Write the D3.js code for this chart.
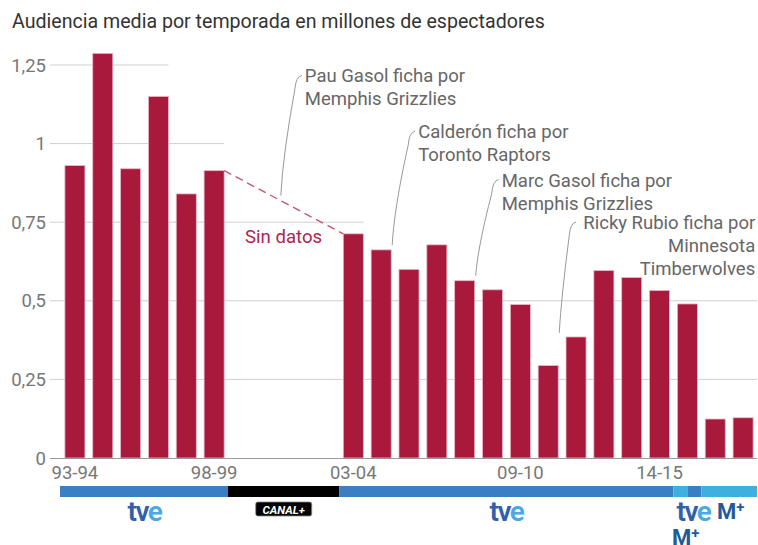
<!DOCTYPE html>
<html>
<head>
<meta charset="utf-8">
<script src="https://cdn.jsdelivr.net/npm/d3@7"></script>
<style>
  body { margin: 0; background: #fff; }
  svg text { font-family: Roboto, "Noto Sans", sans-serif; }
</style>
</head>
<body>
<div id="chart"></div>
<script>
// Seasons and average audience (millions), null = no data
var seasons = ["93-94","94-95","95-96","96-97","97-98","98-99","99-00","00-01","01-02","02-03",
  "03-04","04-05","05-06","06-07","07-08","08-09","09-10","10-11","11-12","12-13",
  "13-14","14-15","15-16","16-17","17-18"];
var audience = [0.93, 1.287, 0.92, 1.15, 0.84, 0.914, null, null, null, null,
  0.713, 0.662, 0.60, 0.678, 0.564, 0.535, 0.488, 0.294, 0.385, 0.596,
  0.574, 0.533, 0.49, 0.124, 0.128];
var xTickLabels = ["93-94", "98-99", "03-04", "09-10", "14-15"];
var yTicks = [0, 0.25, 0.5, 0.75, 1, 1.25];
// where the upper gridlines stop (season whose right edge ends them)
var gridEnds = {"0.75": "03-04", "1": "98-99", "1.25": "96-97"};

// broadcaster strip: [from season index, to season index, broadcaster]
var strip = [[0, 6, "tve"], [6, 10, "canal"], [10, 22, "tve"], [22, 22.5, "movistar"],
  [22.5, 23, "tve"], [23, 25, "movistar"]];

var noteTexts = [
  ["Pau Gasol ficha por", "Memphis Grizzlies"],
  ["Calderón ficha por", "Toronto Raptors"],
  ["Marc Gasol ficha por", "Memphis Grizzlies"],
  ["Ricky Rubio ficha por", "Minnesota", "Timberwolves"]
];
var noteSeasons = ["00-01", "04-05", "07-08", "10-11"];
var noteTips = [0.835, 0.677, 0.58, 0.398];

var svgWidth = 758, svgHeight = 545;
var red = "#a8193c";

var svg = d3.select("#chart").append("svg")
  .attr("width", svgWidth).attr("height", svgHeight);

svg.append("text")
  .attr("x", 12).attr("y", 28)
  .attr("font-size", 19.6).attr("fill", "#333")
  .text("Audiencia media por temporada en millones de espectadores");

var x = d3.scaleBand().domain(seasons).range([61, 757])
  .paddingInner(0.28).paddingOuter(0.14);
var y = d3.scaleLinear().domain([0, 1.25]).range([458, 65]);
var idx = d3.scaleLinear().domain([0, seasons.length]).range([61, 757]);

// gridlines
svg.append("g").selectAll("line")
  .data(yTicks.filter(d => d > 0))
  .enter().append("line")
  .attr("x1", 50)
  .attr("x2", d => gridEnds[String(d)] ? x(gridEnds[String(d)]) + x.bandwidth() : 757)
  .attr("y1", d => y(d)).attr("y2", d => y(d))
  .attr("stroke", "#cfcfcf").attr("stroke-width", 1);

// y labels
svg.append("g").selectAll("text")
  .data(yTicks).enter().append("text")
  .attr("x", 46).attr("y", d => y(d) + 6.5)
  .attr("text-anchor", "end")
  .attr("font-size", 18.5).attr("fill", "#777")
  .text(d => d3.format(",")(d).replace(".", ","));

// bars
var barData = seasons.map((s, i) => ({season: s, value: audience[i]})).filter(d => d.value != null);
svg.append("g").selectAll("rect")
  .data(barData).enter().append("rect")
  .attr("x", d => x(d.season))
  .attr("y", d => y(d.value))
  .attr("width", x.bandwidth())
  .attr("height", d => y(0) - y(d.value))
  .attr("fill", red)
  .attr("stroke", "#e9b7c4").attr("stroke-width", 0.8);

// baseline
svg.append("line")
  .attr("x1", 50).attr("x2", 757)
  .attr("y1", y(0) + 0.5).attr("y2", y(0) + 0.5)
  .attr("stroke", "#999").attr("stroke-width", 1.2);

// x labels
svg.append("g").selectAll("text")
  .data(xTickLabels).enter().append("text")
  .attr("x", d => x(d) + x.bandwidth() / 2)
  .attr("y", 479)
  .attr("text-anchor", "middle")
  .attr("font-size", 18.5).attr("fill", "#777")
  .text(d => d);

// no-data dashed link
var before = "98-99", after = "03-04";
svg.append("line")
  .attr("x1", x(before) + x.bandwidth()).attr("y1", y(audience[seasons.indexOf(before)]))
  .attr("x2", x(after)).attr("y2", y(audience[seasons.indexOf(after)]))
  .attr("stroke", "#c4557a").attr("stroke-width", 1.4)
  .attr("stroke-dasharray", "8,5");
svg.append("text")
  .attr("x", 245).attr("y", 243)
  .attr("font-size", 18.6).attr("fill", "#b3234f")
  .text("Sin datos");

// annotations: text offset from the leader tip
var noteLayout = [
  {dx: 24, dy: -113, anchor: "start"},
  {dx: 26, dy: -107, anchor: "start"},
  {dx: 26, dy: -89, anchor: "start"},
  {dx: 196, dy: -104, anchor: "end", lineStart: 17}
];
noteTexts.forEach(function(lines, k) {
  var lay = noteLayout[k];
  var ex = x(noteSeasons[k]) + x.bandwidth() + 1;
  var ey = y(noteTips[k]);
  var tx = ex + lay.dx, firstY = ey + lay.dy;
  var sx = lay.anchor === "start" ? tx - 3 : ex + lay.lineStart;
  var sy = firstY - 7;
  var g = svg.append("g");
  g.append("path")
    .attr("d", `M${sx},${sy} Q${sx - 6},${sy + 1} ${sx - 7},${sy + 14} Q${ex + 2},${(sy + ey) / 2 + 20} ${ex},${ey}`)
    .attr("fill", "none").attr("stroke", "#999").attr("stroke-width", 1);
  lines.forEach(function(l, i) {
    g.append("text")
      .attr("x", tx).attr("y", firstY + i * 23)
      .attr("text-anchor", lay.anchor)
      .attr("font-size", 18.5).attr("fill", "#666")
      .text(l);
  });
});

// broadcaster strip
var stripColor = {tve: "#3a7fc2", canal: "#000", movistar: "#3fb0dd"};
svg.append("g").selectAll("rect")
  .data(strip).enter().append("rect")
  .attr("x", d => d[0] === 0 ? 60 : idx(d[0]))
  .attr("width", d => idx(d[1]) - (d[0] === 0 ? 60 : idx(d[0])))
  .attr("y", 486).attr("height", 11)
  .attr("fill", d => stripColor[d[2]]);

// logos
function tveLogo(cx, by) {
  var t = svg.append("text").attr("x", cx).attr("y", by)
    .attr("text-anchor", "middle").attr("font-size", 28)
    .attr("font-weight", 600).attr("letter-spacing", -1.5)
    .attr("font-family", "'Noto Sans', sans-serif");
  t.append("tspan").attr("fill", "#3160ab").text("tv");
  t.append("tspan").attr("fill", "#4aa8e2").text("e");
}
function mplus(lx, by) {
  var t = svg.append("text").attr("x", lx).attr("y", by)
    .attr("font-family", "'Noto Sans', sans-serif").attr("font-weight", "bold")
    .attr("fill", "#1f5a99");
  t.append("tspan").attr("font-size", 22).text("M");
  t.append("tspan").attr("font-size", 15).attr("dy", -7).text("+");
}
tveLogo(idx(3), 521);
tveLogo(idx(16), 521);
tveLogo(idx(22.5) + 6, 521);
mplus(717, 519);
mplus(672, 545);

var cx = idx(8);
svg.append("rect").attr("x", cx - 28).attr("y", 502).attr("width", 56).attr("height", 14)
  .attr("rx", 2).attr("fill", "#000").attr("stroke", "#888").attr("stroke-width", 0.8);
svg.append("text").attr("x", cx).attr("y", 513.5)
  .attr("text-anchor", "middle").attr("font-size", 11.5)
  .attr("font-weight", "bold").attr("font-style", "italic")
  .attr("font-family", "'DejaVu Sans', sans-serif").attr("fill", "#fff")
  .text("CANAL+");
</script>
</body>
</html>
